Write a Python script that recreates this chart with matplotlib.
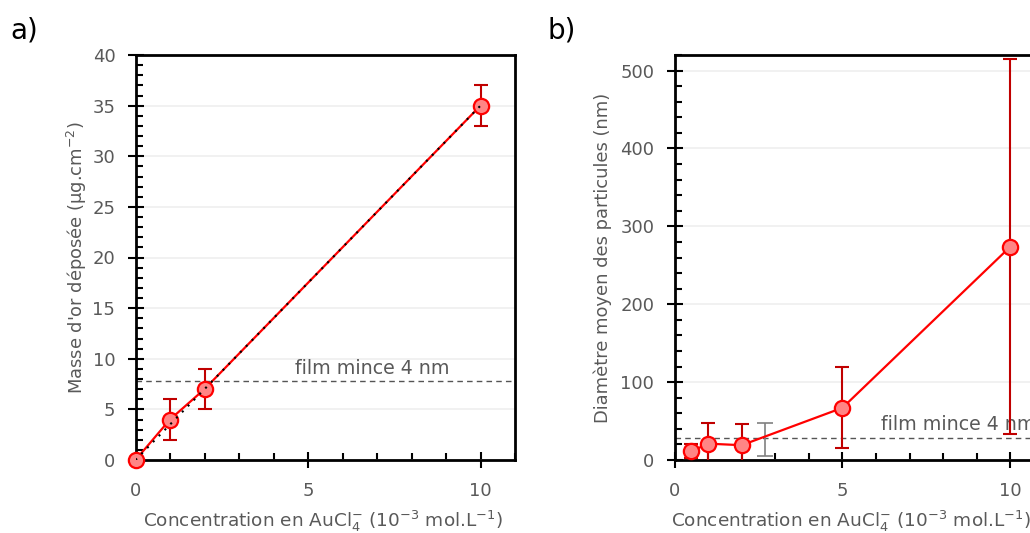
import matplotlib
matplotlib.use("Agg")
import matplotlib.pyplot as plt
from matplotlib.ticker import MultipleLocator

plt.rcParams['font.family'] = ['DejaVu Sans']
plt.rcParams['mathtext.default'] = 'regular'

# Panel a data
conc_a = [0, 1, 2, 10]
mass_a = [0, 4, 7, 35]
err_a = [0, 2, 2, 2]
fit_x = [0, 10]
fit_y = [0, 35]
film_a = 7.8

# Panel b data
conc_b = [0.5, 1, 2, 5, 10]
diam_b = [11, 21, 19, 67, 274]
err_b = [9, 26, 27, 52, 241]
film_b = 28
film_err_x = [2.7]
film_err_y = [26]
film_err = [21]

xlabel = r"Concentration en AuCl$_4^{-}$ (10$^{-3}$ mol.L$^{-1}$)"
gray = '#595959'
red = '#FF0000'
dred = '#C00000'
mface = '#FF8585'

fig = plt.figure(figsize=(10.30, 5.33), dpi=100)
W, H = 1030, 533

def mkax(l, t, r, b):
    return fig.add_axes([l / W, 1 - b / H, (r - l) / W, (b - t) / H])

axa = mkax(135.5, 55, 515, 460)
axb = mkax(674.5, 55, 1044, 460)

def style(ax, ymaj, ymin):
    ax.xaxis.set_major_locator(MultipleLocator(5))
    ax.xaxis.set_minor_locator(MultipleLocator(1))
    ax.yaxis.set_major_locator(MultipleLocator(ymaj))
    ax.yaxis.set_minor_locator(MultipleLocator(ymin))
    ax.tick_params(which='major', direction='inout', length=11, width=1.5,
                   labelsize=13, labelcolor=gray, color='black')
    ax.tick_params(axis='x', which='major', pad=10)
    ax.tick_params(axis='y', which='major', pad=9)
    ax.tick_params(which='minor', direction='in', length=5, width=1.5, color='black')
    for s in ax.spines.values():
        s.set_linewidth(2)
        s.set_color('black')
    ax.grid(axis='y', which='major', color='#EFEFEF', lw=1.2, zorder=0)
    ax.set_axisbelow(True)
    ax.set_xlabel(xlabel, fontsize=13.3, color=gray, labelpad=7)

# Panel a
axa.set_xlim(0, 11)
axa.set_ylim(0, 40)
style(axa, 5, 1)
axa.axhline(film_a, color='#555555', lw=1, ls=(0, (4, 3)), zorder=2)
axa.text(6.87, film_a + 0.3, 'film mince 4 nm', fontsize=13.7, color=gray,
         ha='center', va='bottom')
axa.errorbar(conc_a, mass_a, yerr=err_a, fmt='none', ecolor=dred, elinewidth=1.5,
             capsize=5, capthick=1.5, zorder=3)
axa.plot(conc_a, mass_a, color=red, lw=1.6, zorder=4)
axa.plot(conc_a, mass_a, 'o', ms=11, mfc=mface, mec=red, mew=1.6, zorder=5, clip_on=False)
axa.plot(fit_x, fit_y, color='black', lw=1.5, ls=(0, (1, 3)), zorder=6)
axa.set_ylabel("Masse d'or déposée (µg.cm$^{-2}$)", fontsize=12.9, color=gray, labelpad=2.5)
axa.xaxis.label.set_x((323 - 135.5) / (515 - 135.5))

# Panel b
axb.set_xlim(0, 11)
axb.set_ylim(0, 520)
style(axb, 100, 20)
axb.axhline(film_b, color='#555555', lw=1, ls=(0, (4, 3)), zorder=2)
axb.text(6.15, film_b + 6, 'film mince 4 nm', fontsize=13.7, color=gray,
         ha='left', va='bottom')
axb.errorbar(film_err_x, film_err_y, yerr=film_err, fmt='none', ecolor='#808080',
             elinewidth=1.2, capsize=6, capthick=1.2, zorder=3)
axb.errorbar(conc_b, diam_b, yerr=err_b, fmt='none', ecolor=dred, elinewidth=1.5,
             capsize=5, capthick=1.5, zorder=3)
axb.plot(conc_b, diam_b, color=red, lw=1.6, zorder=4)
axb.plot(conc_b, diam_b, 'o', ms=11, mfc=mface, mec=red, mew=1.6, zorder=5, clip_on=False)
axb.set_ylabel("Diamètre moyen des particules (nm)", fontsize=12.9, color=gray, labelpad=6)
axb.xaxis.label.set_x((851 - 674.5) / (1044 - 674.5))

fig.text(10 / W, 1 - 31 / H, 'a)', fontsize=20, color='black', va='center', ha='left')
fig.text(548 / W, 1 - 31 / H, 'b)', fontsize=20, color='black', va='center', ha='left')

fig.savefig('out.png', dpi=100)
